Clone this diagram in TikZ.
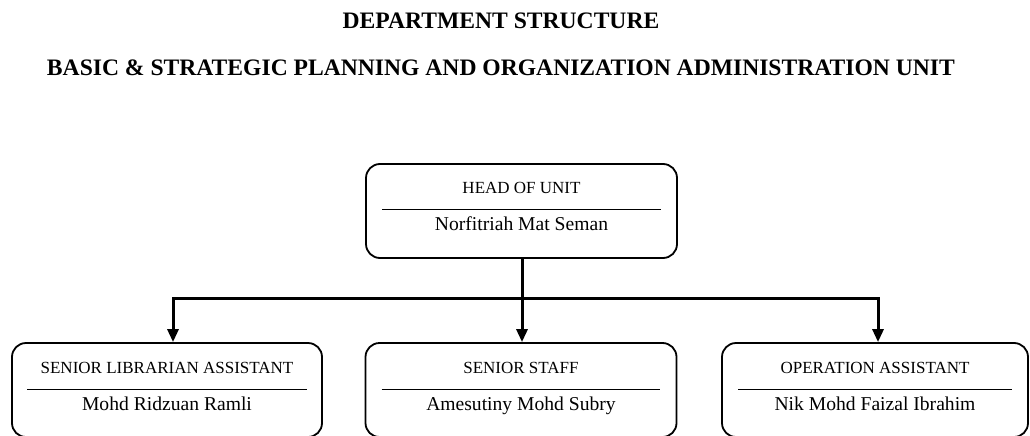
\documentclass[tikz,border=0pt]{standalone}
\usepackage{fontspec}
\setmainfont{Liberation Serif}
\usetikzlibrary{arrows.meta}

\tikzset{
  heading/.style={font=\fontsize{23.6}{26}\selectfont\bfseries, inner sep=0pt, anchor=base},
  unitbox/.style={draw=black, line width=1.8pt, rounded corners=14pt, minimum height=94pt, inner sep=0pt},
  roletext/.style={font=\fontsize{17}{19}\selectfont, inner sep=0pt, anchor=base},
  nametext/.style={font=\fontsize{19.6}{22}\selectfont, inner sep=0pt, anchor=base},
  divider/.style={line width=1pt},
  link/.style={line width=3pt},
  arrowlink/.style={line width=3pt, -{Triangle[width=11pt,length=13pt]}},
}

\begin{document}
\begin{tikzpicture}[x=1pt, y=-1pt]
  \useasboundingbox (0,0) rectangle (1030,436);
  \clip (0,0) rectangle (1030,436);

  % page headings
  \node[heading] (title) at (501,29) {DEPARTMENT STRUCTURE};
  \node[heading] (subtitle) at (501,75) {BASIC \& STRATEGIC PLANNING AND ORGANIZATION ADMINISTRATION UNIT};

  % unit boxes
  \node[unitbox, minimum width=311pt] (head) at (521.5,211) {};
  \node[unitbox, minimum width=310pt] (left) at (167,390) {};
  \node[unitbox, minimum width=311pt] (mid) at (521,390) {};
  \node[unitbox, minimum width=306pt] (right) at (875,390) {};

  % head of unit contents
  \node[roletext] (headrole) at ([yshift=-30]head.north) {HEAD OF UNIT};
  \draw[divider] ([xshift=17,yshift=-46]head.north west) -- ([xshift=-17,yshift=-46]head.north east);
  \node[nametext] (headname) at ([yshift=-67.5]head.north) {Norfitriah Mat Seman};

  % staff contents
  \node[roletext] (leftrole) at ([yshift=-31.5]left.north) {SENIOR LIBRARIAN ASSISTANT};
  \draw[divider] ([xshift=16,yshift=-47]left.north west) -- ([xshift=-16,yshift=-47]left.north east);
  \node[nametext] (leftname) at ([yshift=-68.5]left.north) {Mohd Ridzuan Ramli};

  \node[roletext] (midrole) at ([yshift=-31.5]mid.north) {SENIOR STAFF};
  \draw[divider] ([xshift=17,yshift=-47]mid.north west) -- ([xshift=-17,yshift=-47]mid.north east);
  \node[nametext] (midname) at ([yshift=-68.5]mid.north) {Amesutiny Mohd Subry};

  \node[roletext] (rightrole) at ([yshift=-31.5]right.north) {OPERATION ASSISTANT};
  \draw[divider] ([xshift=17,yshift=-47]right.north west) -- ([xshift=-17,yshift=-47]right.north east);
  \node[nametext] (rightname) at ([yshift=-68.5]right.north) {Nik Mohd Faizal Ibrahim};

  % reporting lines
  \coordinate (hub) at (522,298);
  \coordinate (hubL) at (173,298);
  \coordinate (hubR) at (878,298);
  \draw[link] (head.south -| hub) -- (hub);
  \draw[link, line cap=rect] (hubL) -- (hubR);
  \draw[arrowlink] (hubL) -- (left.north -| hubL);
  \draw[arrowlink] (hub) -- (mid.north -| hub);
  \draw[arrowlink] (hubR) -- (right.north -| hubR);
\end{tikzpicture}
\end{document}
